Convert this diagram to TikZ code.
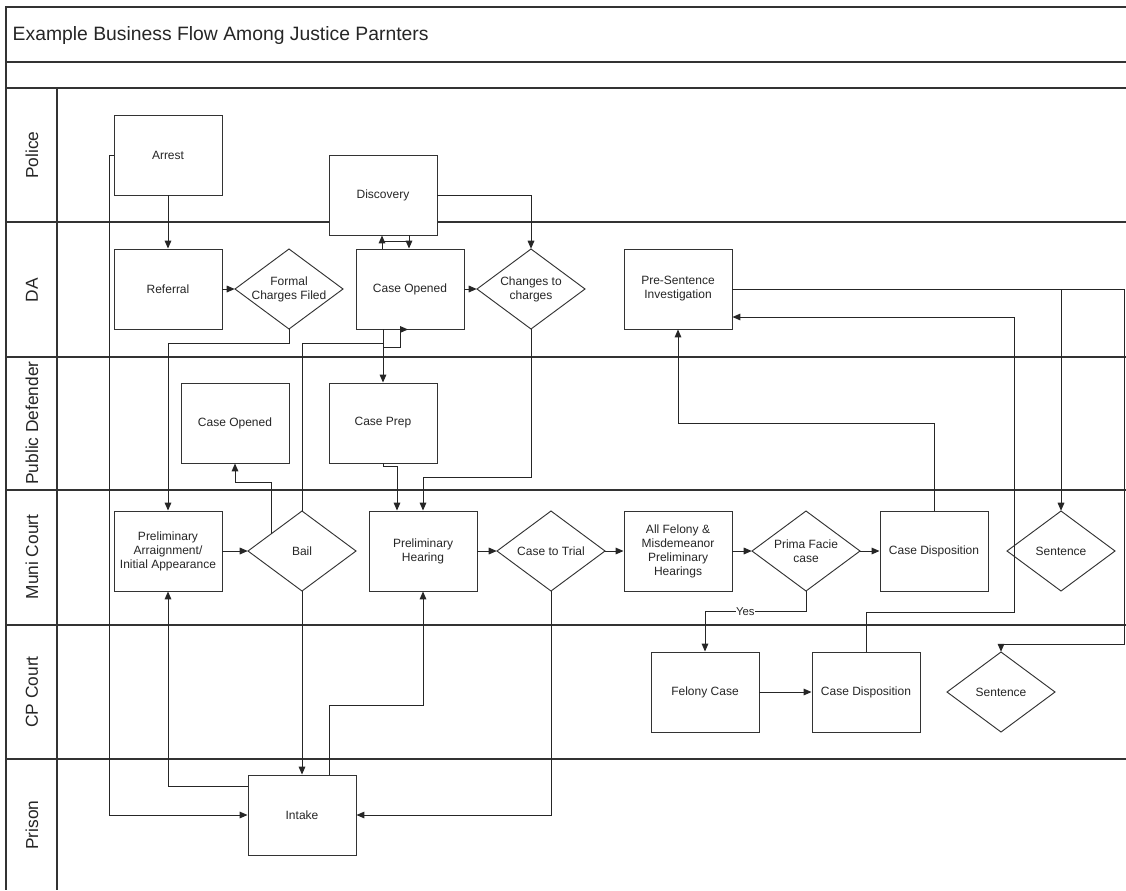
\documentclass[tikz,border=0pt]{standalone}
\usepackage{fontspec}
\setmainfont{Liberation Sans}
\usetikzlibrary{arrows.meta,calc}
\begin{document}
\begin{tikzpicture}[x=0.75pt,y=-0.75pt,
  lane/.style={draw=black!80, line width=1pt},
  box/.style={draw=black!80, fill=white, line width=0.7pt, rectangle, minimum width=81pt, minimum height=60pt, inner sep=1pt, align=center, font=\fontsize{9}{10.5}\selectfont, text=black!85},
  dia/.style={rectangle, minimum width=81pt, minimum height=60pt, inner sep=1pt, align=center, font=\fontsize{9}{10.5}\selectfont, text=black!85},
  diaoutline/.style={draw=black!80, fill=white, line width=0.7pt},
  conn/.style={draw=black!85, line width=0.75pt},
  arr/.style={conn, -{Triangle[length=6pt,width=5pt]}},
  lanelabel/.style={rotate=90, font=\fontsize{13}{15}\selectfont, text=black!85},
  yeslabel/.style={fill=white, inner sep=0.5pt, font=\fontsize{8.5}{10}\selectfont, text=black!85},
]
\fill[white] (0,0) rectangle (1126,890);
\useasboundingbox (0,0) rectangle (1126,890);

% frame and lanes
\draw[lane] (1126,7) -- (6,7) -- (6,890);
\draw[lane] (6,62) -- (1126,62);
\draw[lane] (6,88) -- (1126,88);
\draw[lane] (57,88) -- (57,890);
\foreach \yy in {222,357,490,625,759} \draw[lane] (6,\yy) -- (1126,\yy);

\node[anchor=west, font=\fontsize{14.5}{17}\selectfont, text=black!85] (title) at (8,35) {Example Business Flow Among Justice Parnters};

\node[lanelabel] (lpol) at (32,155) {Police};
\node[lanelabel] (lda) at (32,290) {DA};
\node[lanelabel] (lpd) at (32,423) {Public Defender};
\node[lanelabel] (lmuni) at (32,557) {Muni Court};
\node[lanelabel] (lcp) at (32,692) {CP Court};
\node[lanelabel] (lpri) at (32,825) {Prison};

% boxes
\node[box] (arrest) at (168,155) {Arrest};
\node[box] (disc) at (383,195) {Discovery};
\node[box] (ref) at (168,289) {Referral};
\node[box] (daco) at (410,289) {Case Opened};
\node[box] (psi) at (678,289) {Pre-Sentence\\Investigation};
\node[box] (pdco) at (235,423) {Case Opened};
\node[box] (prep) at (383,423) {Case Prep};
\node[box] (parr) at (168,551) {Preliminary\\Arraignment/\\Initial Appearance};
\node[box] (ph) at (423,551) {Preliminary\\Hearing};
\node[box] (afm) at (678,551) {All Felony \&\\Misdemeanor\\Preliminary\\Hearings};
\node[box] (mcd) at (934,551) {Case Disposition};
\node[box] (fel) at (705,692) {Felony Case};
\node[box] (ccd) at (866,692) {Case Disposition};
\node[box] (intake) at (302,815) {Intake};

% diamonds
\foreach \nm/\px/\py in {fcf/289/289, chg/531/289, bail/302/551, ctt/551/551, pfc/806/551, msen/1061/551, csen/1001/692}
  \path[diaoutline] (\px,\py-40) -- (\px+54,\py) -- (\px,\py+40) -- (\px-54,\py) -- cycle;
\node[dia] (fcf) at (289,289) {Formal\\Charges Filed};
\node[dia] (chg) at (531,289) {Changes to\\charges};
\node[dia] (bail) at (302,551) {Bail};
\node[dia] (ctt) at (551,551) {Case to Trial};
\node[dia] (pfc) at (806,551) {Prima Facie\\case};
\node[dia] (msen) at (1061,551) {Sentence};
\node[dia] (csen) at (1001,692) {Sentence};

% connectors
\draw[arr] (arrest.south) -- (ref.north);
\draw[arr] (arrest.west) -- ++(-4,0) |- (intake.west);
\draw[arr] (ref.east) -- (fcf.west);
\draw[arr] (fcf.south) -- ++(0,14) -| (parr.north);
\draw[arr] ($(daco.north)+(-28,0)$) -- ($(disc.south)+(-1,0)$);
\draw[arr] ($(disc.south)+(26,0)$) -- ($(daco.north)+(-1,0)$);
\draw[conn] ($(disc.south)+(-1,6)$) -- ($(disc.south)+(26,6)$);
\draw[arr] (daco.east) -- (chg.west);
\draw[arr] (disc.east) -| (chg.north);
\draw[arr] ($(daco.south)+(-27,0)$) -- (prep.north);
\draw[arr] (bail.north) |- ($(daco.south)+(-27,14)$) -- ++(0,4) -- ++(17,0) -- ($(daco.south)+(-10,0)$) -- ($(daco.south)+(-2,0)$);
\draw[arr] (chg.south) -- ++(0,148) -| (ph.north);
\draw[arr] (prep.south) -- ++(0,3) -| ($(ph.north)+(-26,0)$);
\draw[arr] ($(bail.west)!0.43!(bail.north)$) -- ++(0,-51) -| (pdco.south);
\draw[arr] (parr.east) -- (bail.west);
\draw[arr] (bail.south) -- (intake.north);
\draw[arr] ($(intake.west)+(0,-29)$) -| (parr.south);
\draw[arr] ($(intake.north)+(27,0)$) -- ++(0,-69) -| (ph.south);
\draw[arr] (ph.east) -- (ctt.west);
\draw[arr] (ctt.south) |- (intake.east);
\draw[arr] (ctt.east) -- (afm.west);
\draw[arr] (afm.east) -- (pfc.west);
\draw[arr] (pfc.east) -- (mcd.west);
\draw[arr] (pfc.south) -- ++(0,20) -| node[pos=0.3, yeslabel] {Yes} (fel.north);
\draw[arr] (fel.east) -- (ccd.west);
\draw[arr] (mcd.north) -- ++(0,-87) -| (psi.south);
\draw[arr] (ccd.north) -- ++(0,-39) -| ($(psi.east)+(282,28)$) -- ($(psi.east)+(0,28)$);
\draw[arr] (psi.east) -| (msen.north);
\draw[arr] (psi.east) -- ++(392,0) |- ($(csen.north)+(0,-7)$) -- (csen.north);
\end{tikzpicture}
\end{document}
